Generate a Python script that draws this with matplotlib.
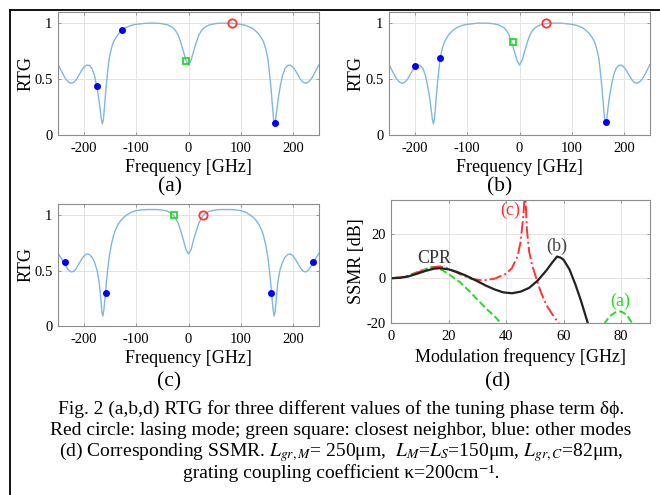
import numpy as np
import matplotlib
matplotlib.use('Agg')
import matplotlib.pyplot as plt
from matplotlib.lines import Line2D

plt.rcParams['font.family'] = ['Liberation Serif', 'DejaVu Serif']
plt.rcParams['mathtext.fontset'] = 'stix'
plt.rcParams['axes.unicode_minus'] = False

# RTG curve shared by panels (a) and (b)
freq_ab = [-250, -245, -240, -235, -230, -225, -220, -215, -210, -205, -200, -195, -190,
           -185, -180, -176, -172, -169, -167, -165, -163, -161, -158, -155, -152, -148,
           -144, -140, -135, -130, -125, -120, -110, -100, -90, -80, -60, -50, -40, -30,
           -25, -20, -15, -10, -5, 0,
           5, 10, 15, 20, 25, 30, 40, 50, 60, 80, 90, 100, 110, 120, 125, 130, 135, 140,
           144, 148, 152, 155, 158, 161, 163, 165, 167, 169, 172, 176, 180, 185, 190, 195,
           200, 205, 210, 215, 220, 225, 230, 235, 240, 245, 250]
rtg_ab = [0.63, 0.585, 0.54, 0.50, 0.475, 0.462, 0.47, 0.495, 0.535, 0.575, 0.607, 0.625, 0.622,
          0.595, 0.53, 0.44, 0.33, 0.22, 0.14, 0.10, 0.14, 0.25, 0.42, 0.56, 0.685, 0.77,
          0.83, 0.865, 0.90, 0.925, 0.945, 0.96, 0.98, 0.99, 0.995, 1.0, 1.0, 0.995, 0.985, 0.96,
          0.935, 0.895, 0.83, 0.75, 0.67, 0.625,
          0.67, 0.75, 0.83, 0.895, 0.935, 0.96, 0.985, 0.995, 1.0, 1.0, 0.995, 0.99, 0.98, 0.96,
          0.945, 0.925, 0.90, 0.865, 0.83, 0.77, 0.685, 0.56, 0.42, 0.25, 0.14, 0.10, 0.14, 0.22,
          0.33, 0.44, 0.53, 0.595, 0.622, 0.625, 0.607, 0.575, 0.535, 0.495, 0.47, 0.462, 0.475,
          0.50, 0.54, 0.585, 0.63]

# RTG curve of panel (c)
freq_c = [-250, -245, -240, -235, -230, -225, -220, -215, -210, -205, -200, -195, -190,
          -185, -180, -175, -171, -168, -166, -164, -162, -160, -158, -155, -152, -148,
          -144, -140, -135, -130, -125, -120, -110, -100, -90, -80, -60, -50, -40, -30,
          -25, -20, -15, -10, -5, 0,
          5, 10, 15, 20, 25, 30, 40, 50, 60, 80, 90, 100, 110, 120, 125, 130, 135, 140,
          144, 148, 152, 155, 158, 160, 162, 164, 166, 168, 171, 175, 180, 185, 190, 195,
          200, 205, 210, 215, 220, 225, 230, 235, 240, 245, 250]
rtg_c = [0.655, 0.62, 0.58, 0.54, 0.505, 0.487, 0.493, 0.52, 0.56, 0.60, 0.633, 0.65, 0.645,
         0.62, 0.575, 0.50, 0.39, 0.24, 0.13, 0.09, 0.15, 0.25, 0.36, 0.50, 0.62, 0.73,
         0.81, 0.865, 0.915, 0.95, 0.975, 0.995, 1.025, 1.04, 1.047, 1.05, 1.05, 1.045, 1.035, 1.005,
         0.975, 0.93, 0.86, 0.78, 0.69, 0.65,
         0.69, 0.78, 0.86, 0.93, 0.975, 1.005, 1.035, 1.045, 1.05, 1.05, 1.047, 1.04, 1.025, 0.995,
         0.975, 0.95, 0.915, 0.865, 0.81, 0.73, 0.62, 0.50, 0.36, 0.25, 0.15, 0.09, 0.13, 0.24,
         0.39, 0.50, 0.575, 0.62, 0.645, 0.65, 0.633, 0.60, 0.56, 0.52, 0.493, 0.487, 0.505,
         0.54, 0.58, 0.62, 0.655]

# mode markers: (lasing, closest neighbour, other modes)
lasing_a = ([83], [1.0])
neighbor_a = ([-4], [0.665])
others_a = ([-176, -128, 166], [0.44, 0.935, 0.11])

lasing_b = ([51], [1.0])
neighbor_b = ([-13], [0.83])
others_b = ([-200, -152, 166], [0.62, 0.687, 0.116])

lasing_c = ([27], [1.0])
neighbor_c = ([-27], [1.0])
others_c = ([-237, -159, 159, 239], [0.58, 0.30, 0.30, 0.58])

# SSMR curves of panel (d)
fm_b = [0, 3, 6, 9, 12, 15, 17, 20, 23, 26, 30, 33, 36, 39, 42, 45, 48, 51, 54, 56, 57.7,
        59, 60, 62, 64, 66, 68.5]
ssmr_b = [0, 0.2, 0.8, 2.0, 3.3, 4.3, 4.5, 4.0, 2.8, 1.2, -1.3, -3.3, -5.0, -6.3, -6.7, -6.0,
          -4.3, -1.0, 3.5, 7.0, 9.7, 9.2, 8.2, 4.0, -2.5, -10.0, -20.5]

fm_c = [0, 5, 10, 15, 17, 20, 24, 28, 32, 36, 40, 42, 44, 45, 46, 46.6, 47.2, 48, 49, 50,
        52, 54, 56, 58.5]
ssmr_c = [0, 0.6, 3.0, 5.0, 5.3, 4.3, 1.8, -0.3, -1.0, -0.2, 2.0, 4.5, 10, 16, 28, 40, 22, 12,
          6, 2, -6, -12, -16, -20.5]

fm_a = [0, 5, 10, 14, 16, 18, 21, 24, 27, 30, 33, 36, 38.5, np.nan, 74, 76, 78, 80, 82, 84]
ssmr_a = [0, 0.7, 3.2, 5.0, 4.8, 3.5, 1.0, -1.8, -5.5, -9.5, -13.5, -17, -20.5, np.nan,
          -20.5, -17, -15.2, -14.8, -16.5, -20.5]

W, H = 660, 495
fig = plt.figure(figsize=(W / 100, H / 100), dpi=100)


def box(left, top, right, bottom):
    return [left / W, 1 - bottom / H, (right - left) / W, (bottom - top) / H]


def style(ax):
    for s in ax.spines.values():
        s.set_color('#8c8c8c')
        s.set_linewidth(0.8)
    ax.tick_params(direction='in', length=2.5, width=0.6, color='#8c8c8c',
                   labelsize=10.5, pad=5, top=True, right=True,
                   labeltop=False, labelright=False)
    ax.tick_params(axis='y', pad=4)
    ax.grid(True, color='#e3e3e3', linewidth=0.7)
    ax.set_axisbelow(True)


def place_labels(ax, xlab, ylab, x_top_px, y_center_px, left, top, right, bottom):
    ax.set_xlabel(xlab, fontsize=13)
    ax.set_ylabel(ylab, fontsize=13)
    ax.xaxis.set_label_coords(0.5, (bottom - x_top_px) / (bottom - top))
    ax.yaxis.set_label_coords((y_center_px + 8 - left) / (right - left), 0.5)


curve_col = '#7db7e2'


def rtg_panel(px, fx, fy, lasing, neighbor, others, ylab_x):
    ax = fig.add_axes(box(*px))
    style(ax)
    ax.plot(fx, fy, color=curve_col, lw=1.0)
    ax.plot(*others, 'o', color='#0000ff', ms=4, mec='#0000ff')
    ax.plot(*neighbor, 's', mfc='none', mec='#22dd22', ms=5, mew=1.3)
    ax.plot(*lasing, 'o', mfc='none', mec='#ff3333', ms=6, mew=1.3)
    ax.set_xlim(-250, 250)
    ax.set_ylim(0, 1.1)
    ax.set_xticks([-200, -100, 0, 100, 200])
    ax.set_yticks([0, 0.5, 1])
    ax.set_yticklabels(['0', '0.5', '1'])
    place_labels(ax, 'Frequency [GHz]', 'RTG', px[3] + 24, ylab_x, *px)
    return ax


px_a = (58, 12, 319, 135)
px_b = (389, 12, 650, 135)
px_c = (58, 204, 319, 326)
px_d = (391, 200, 650, 323)

rtg_panel(px_a, freq_ab, rtg_ab, lasing_a, neighbor_a, others_a, 27)
rtg_panel(px_b, freq_ab, rtg_ab, lasing_b, neighbor_b, others_b, 357)
rtg_panel(px_c, freq_c, rtg_c, lasing_c, neighbor_c, others_c, 27)

# --- panel (d): SSMR ---
ax = fig.add_axes(box(*px_d))
style(ax)
ax.plot(fm_a, ssmr_a, '--', color='#22dd22', lw=1.4)
ax.plot(fm_c, ssmr_c, '-.', color='#ff3333', lw=1.4)
ax.plot(fm_b, ssmr_b, '-', color='#222222', lw=1.6)
ax.set_xlim(0, 90)
ax.set_ylim(-20, 35)
ax.set_xticks([0, 20, 40, 60, 80])
ax.set_yticks([-20, 0, 20])
place_labels(ax, 'Modulation frequency [GHz]', 'SSMR [dB]', 348, 357, *px_d)
ax.text(15, 9, 'CPR', fontsize=13, ha='center', va='center', color='#333333')
ax.text(57.7, 14.5, '(b)', fontsize=13, ha='center', va='center', color='#444444')
ax.text(41.5, 30.5, '(c)', fontsize=13, ha='center', va='center', color='#ff3333')
ax.text(79.5, -10.5, '(a)', fontsize=13, ha='center', va='center', color='#22dd22')

# panel letters
for x, y, s in [(170, 187, '(a)'), (500, 187, '(b)'), (169, 382, '(c)'), (498, 382, '(d)')]:
    fig.text(x / W, 1 - y / H, s, fontsize=15.5, ha='center', va='center')

# caption
caption = [
    'Fig. 2 (a,b,d) RTG for three different values of the tuning phase term δϕ.',
    'Red circle: lasing mode; green square: closest neighbor, blue: other modes',
    r'(d) Corresponding SSMR. $L_{gr,M}$= 250μm,  $L_M$=$L_S$=150μm, $L_{gr,C}$=82μm,',
    'grating coupling coefficient κ=200cm⁻¹.',
]
caption_y = [414, 435, 456, 478.5]
for line, y in zip(caption, caption_y):
    fig.text(341 / W, 1 - y / H, line, fontsize=14, ha='center', va='baseline')

# outer frame
fig.add_artist(Line2D([10 / W, 1.0], [1 - 9.5 / H, 1 - 9.5 / H], color='black', lw=1.3,
                      transform=fig.transFigure))
fig.add_artist(Line2D([10 / W, 10 / W], [1 - 9.5 / H, 0], color='black', lw=1.3,
                      transform=fig.transFigure))

fig.savefig('out.png', dpi=100)
